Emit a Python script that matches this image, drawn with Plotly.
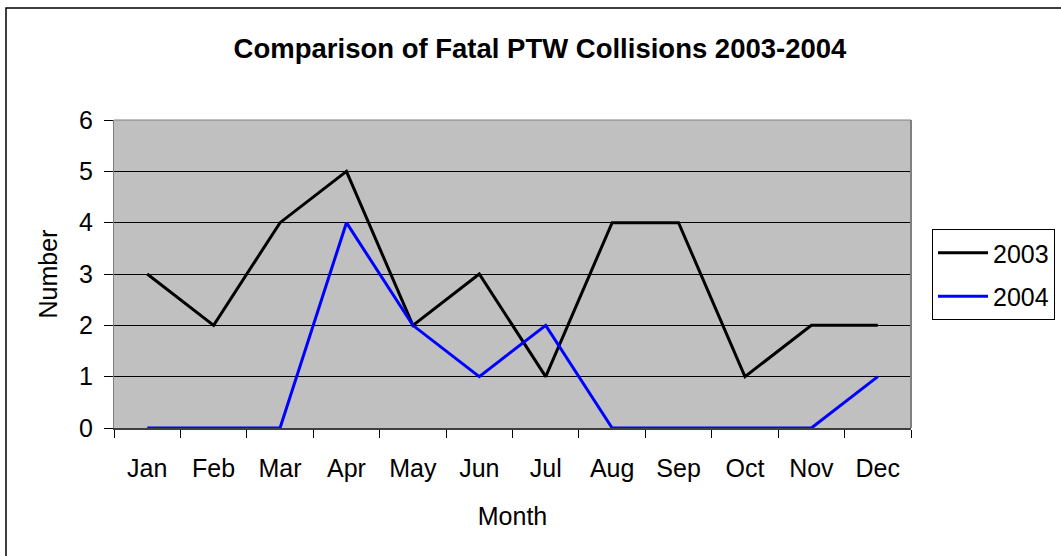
import plotly.graph_objects as go

months = ["Jan", "Feb", "Mar", "Apr", "May", "Jun", "Jul", "Aug", "Sep", "Oct", "Nov", "Dec"]
fatal_2003 = [3, 2, 4, 5, 2, 3, 1, 4, 4, 1, 2, 2]
fatal_2004 = [0, 0, 0, 4, 2, 1, 2, 0, 0, 0, 0, 1]

FONT = "Liberation Sans, Arial, sans-serif"

fig = go.Figure()
fig.add_trace(go.Scatter(x=months, y=fatal_2003, mode="lines", name="2003", legendgroup="a",
                         line=dict(color="black", width=3), cliponaxis=False))
fig.add_trace(go.Scatter(x=months, y=fatal_2004, mode="lines", name="2004", legendgroup="b",
                         line=dict(color="#0000FF", width=3), cliponaxis=False))

W, H = 1061, 556
L, R, T, B = 114, 150, 120, 128
pw, ph = W - L - R, H - T - B

def px(x):
    return (x - L) / pw

def py(y):
    return (H - B - y) / ph

fig.update_layout(
    width=W, height=H,
    margin=dict(l=L, r=R, t=T, b=B, pad=0, autoexpand=False),
    paper_bgcolor="white",
    plot_bgcolor="#C0C0C0",
    font=dict(family=FONT, size=25, color="black"),
    title=dict(text="<b>Comparison of Fatal PTW Collisions 2003-2004</b>",
               x=px(540), xref="paper", xanchor="center",
               y=1 - 48 / H, yanchor="middle",
               font=dict(size=27.5, family=FONT, color="black")),
    xaxis=dict(
        type="category", tickson="boundaries", ticks="outside", ticklen=8,
        tickcolor="black", showgrid=False, showline=True, linecolor="#404040",
        linewidth=2, tickfont=dict(size=25), ticklabelstandoff=17,
        title=dict(text="Month", font=dict(size=25), standoff=26),
        range=[-0.5, 11.5], zeroline=False,
    ),
    yaxis=dict(
        range=[0, 6], dtick=1, ticks="outside", ticklen=9, tickcolor="black",
        showgrid=True, gridcolor="black", gridwidth=1, showline=True,
        linecolor="#808080", linewidth=1, tickfont=dict(size=25),
        ticklabelstandoff=6,
        title=dict(text="Number", font=dict(size=25), standoff=14),
        zeroline=False,
    ),
    legend=dict(
        x=px(932), y=py(229), xanchor="left", yanchor="top",
        bordercolor="black", borderwidth=1, bgcolor="white",
        font=dict(size=25, family=FONT), traceorder="grouped",
        tracegroupgap=8, itemwidth=50,
    ),
    showlegend=True,
)

# plot area top & right border (gray)
fig.add_shape(type="line", xref="paper", yref="paper", x0=0, x1=1, y0=1, y1=1,
              line=dict(color="#808080", width=1))
fig.add_shape(type="line", xref="paper", yref="paper", x0=1, x1=1, y0=0, y1=1,
              line=dict(color="#808080", width=2))
# outer chart border
fig.add_shape(type="rect", xref="paper", yref="paper",
              x0=px(6), x1=px(1075), y0=py(570), y1=py(8),
              line=dict(color="black", width=1.5), fillcolor="rgba(0,0,0,0)",
              layer="below")

fig.write_html("out.html", config={"displayModeBar": False},
               post_script="document.body.style.margin='0';document.body.style.overflow='hidden';")
